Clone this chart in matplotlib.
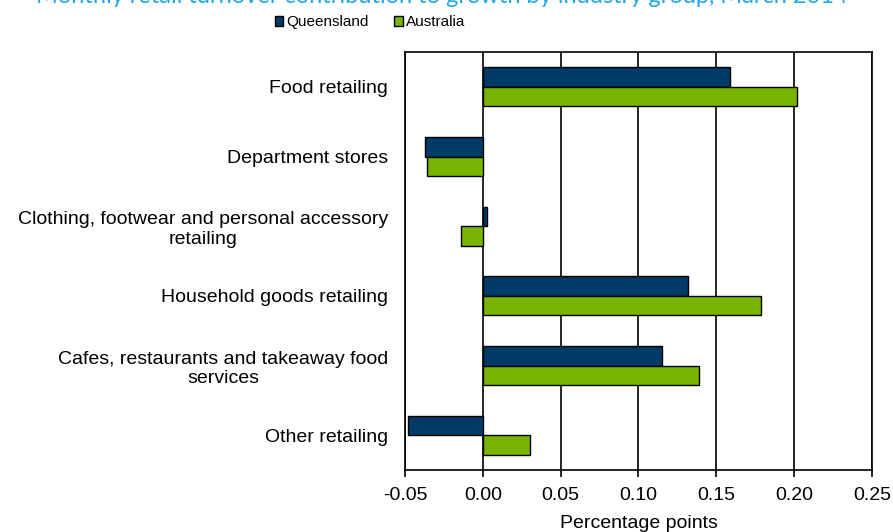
import matplotlib.pyplot as plt
import numpy as np

categories = ["Food retailing", "Department stores",
              "Clothing, footwear and personal accessory\nretailing",
              "Household goods retailing",
              "Cafes, restaurants and takeaway food\nservices",
              "Other retailing"]
queensland = [0.159, -0.037, 0.003, 0.132, 0.115, -0.048]
australia = [0.202, -0.036, -0.014, 0.179, 0.139, 0.030]
series_names = ["Queensland", "Australia"]
xticks = [-0.05, 0.00, 0.05, 0.10, 0.15, 0.20, 0.25]

plt.rcParams['font.family'] = ['Liberation Sans', 'DejaVu Sans']

fig = plt.figure(figsize=(8.93, 5.32), dpi=100)
ax = fig.add_axes([0.4535, 0.1165, 0.523, 0.7855])

ypos = np.arange(len(categories))
h = 0.28
b1 = ax.barh(ypos - h / 2, queensland, height=h, color="#003a66", edgecolor="black", linewidth=1, label=series_names[0], zorder=3)
b2 = ax.barh(ypos + h / 2, australia, height=h, color="#78b400", edgecolor="black", linewidth=1, label=series_names[1], zorder=3)

ax.set_xlim(-0.05, 0.25)
ax.set_ylim(len(categories) - 0.5, -0.5)
ax.set_xticks(xticks)
ax.set_xticklabels(["%.2f" % t for t in xticks], fontsize=14)
ax.set_yticks(ypos)
ax.set_yticklabels(categories, fontsize=14, multialignment="center")
ax.tick_params(axis="y", length=0, pad=12)
ax.tick_params(axis="x", direction="out", length=5, width=1.2, pad=7)
ax.xaxis.grid(True, color="black", linewidth=1.2, zorder=0)
ax.set_axisbelow(True)
for s in ax.spines.values():
    s.set_linewidth(1.2)
ax.set_xlabel("Percentage points", fontsize=14, labelpad=8)

# title is cut off by the top edge in the original too
fig.text(0.495, 0.9944, "Monthly retail turnover contribution to growth by industry group, March 2014",
         color="#25a6e6", fontsize=17, ha="center", va="baseline", family=["Lato", "DejaVu Sans"])

fig.legend(handles=[b1, b2], loc="center left", bbox_to_anchor=(0.292, 0.958), ncol=2, frameon=False,
           fontsize=11, handlelength=0.55, handleheight=0.55, handletextpad=0.2, columnspacing=1.7)

plt.savefig("out.png", dpi=100)
